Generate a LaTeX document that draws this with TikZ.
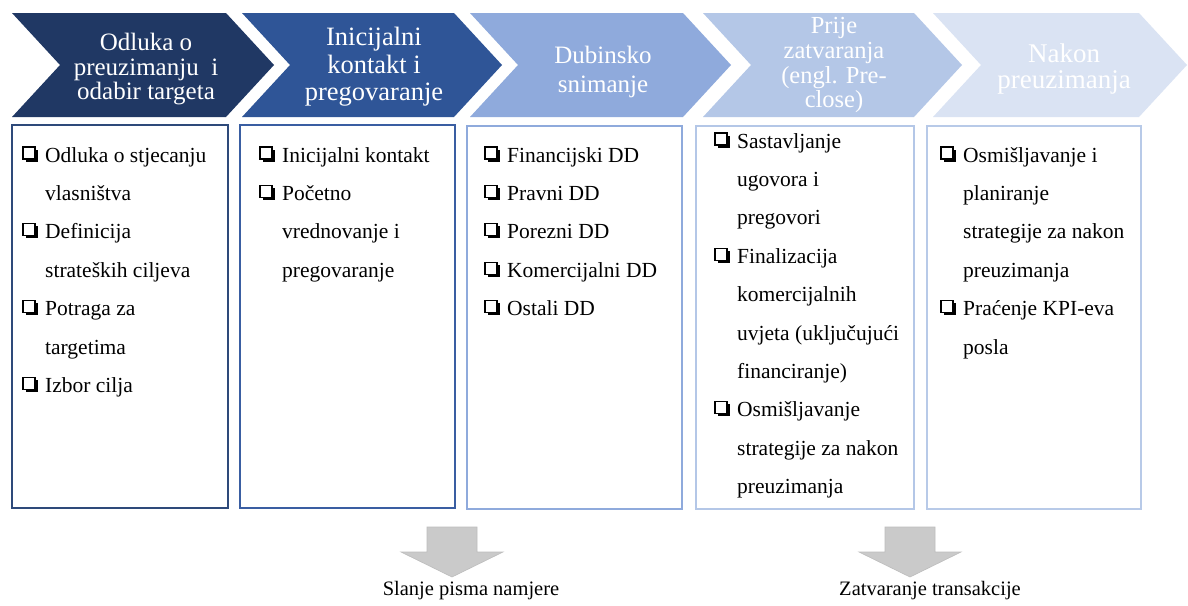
\documentclass[tikz,border=0pt]{standalone}
\usepackage{fontspec}
\setmainfont{Liberation Serif}
\definecolor{cA}{HTML}{203864}
\definecolor{cB}{HTML}{2F5597}
\definecolor{cC}{HTML}{8FAADC}
\definecolor{cD}{HTML}{B4C7E7}
\definecolor{cE}{HTML}{DAE3F3}
\definecolor{bA}{HTML}{2E4A7A}
\definecolor{bB}{HTML}{3A5EA2}
\definecolor{bC}{HTML}{8FAADC}
\definecolor{bD}{HTML}{B4C7E7}
\definecolor{bE}{HTML}{B8CAE8}
\definecolor{arrowgray}{HTML}{CACACA}
\definecolor{arrowedge}{HTML}{BDBDBD}
\newcommand\chevronshape[3]{%
  \fill[#3] (#1,13) -- (#2,13) -- (#2+48,65) -- (#2,117) -- (#1,117) -- (#1+48,65) -- cycle;}
\newcommand\chkbox[2]{%
  \fill[black] (#1+2.6,#2-12.4) rectangle (#1+14.6,#2-0.4);
  \filldraw[fill=white,draw=black,line width=1.1pt] (#1,#2-15) rectangle (#1+12,#2-3);}
\newcommand\blockdown[1]{%
  \filldraw[blockarrow] (#1-25,527) -- (#1+25,527) -- (#1+25,552) -- (#1+51,552) -- (#1,577) -- (#1-51,552) -- (#1-25,552) -- cycle;}
\begin{document}
\begin{tikzpicture}[x=1pt,y=-1pt,
  chevtext/.style={anchor=base,text=white,inner sep=0pt},
  itemtext/.style={anchor=base west,inner sep=0pt,font=\fontsize{21.5}{21.5}\selectfont},
  listbox/.style={line width=1.5pt,fill=white},
  note/.style={anchor=base,inner sep=0pt,font=\fontsize{20.5}{20.5}\selectfont},
  blockarrow/.style={fill=arrowgray,draw=arrowedge,line width=0.6pt}]
\useasboundingbox[fill=white] (0,0) rectangle (1188,605);

% chevrons
\chevronshape{12}{226}{cA}
\chevronshape{242}{454}{cB}
\chevronshape{470}{683}{cC}
\chevronshape{703}{914}{cD}
\chevronshape{933}{1139}{cE}

% chevron texts
\begin{scope}[every node/.append style={font=\fontsize{25}{25}\selectfont}]
\node[chevtext] (h1a) at (146,50) {Odluka o};
\node[chevtext] (h1b) at (146,75) {preuzimanju\ \ i};
\node[chevtext] (h1c) at (146,99) {odabir targeta};
\end{scope}
\begin{scope}[every node/.append style={font=\fontsize{26.5}{26.5}\selectfont}]
\node[chevtext] (h2a) at (374,45) {Inicijalni};
\node[chevtext] (h2b) at (374,73) {kontakt i};
\node[chevtext] (h2c) at (374,100) {pregovaranje};
\end{scope}
\begin{scope}[every node/.append style={font=\fontsize{25}{25}\selectfont}]
\node[chevtext] (h3a) at (603,63) {Dubinsko};
\node[chevtext] (h3b) at (603,92) {snimanje};
\end{scope}
\begin{scope}[every node/.append style={font=\fontsize{24.5}{24.5}\selectfont}]
\node[chevtext] (h4a) at (834,33) {Prije};
\node[chevtext] (h4b) at (834,58.5) {zatvaranja};
\node[chevtext] (h4c) at (834,83) {(engl. Pre-};
\node[chevtext] (h4d) at (834,107.5) {close)};
\end{scope}
\begin{scope}[every node/.append style={font=\fontsize{27}{27}\selectfont}]
\node[chevtext] (h5a) at (1064,62) {Nakon};
\node[chevtext] (h5b) at (1064,88) {preuzimanja};
\end{scope}

% boxes
\draw[listbox,draw=bA] (12,125) rectangle (228,508);
\draw[listbox,draw=bB] (240,125) rectangle (455,508);
\draw[listbox,draw=bC] (467,126) rectangle (682,509);
\draw[listbox,draw=bD] (696,126) rectangle (914,509);
\draw[listbox,draw=bE] (927,126) rectangle (1141,509);

% box 1
\foreach \t [count=\i from 0] in {Odluka o stjecanju,vlasništva,Definicija,strateških ciljeva,Potraga za,targetima,Izbor cilja}
  \node[itemtext,name=ba\i] at (45,162+38.4*\i) {\t};
\foreach \i in {0,2,4,6} {\chkbox{23}{162+38.4*\i}}

% box 2
\foreach \t [count=\i from 0] in {Inicijalni kontakt,Početno,vrednovanje i,pregovaranje}
  \node[itemtext,name=bb\i] at (282,162+38.4*\i) {\t};
\foreach \i in {0,1} {\chkbox{260}{162+38.4*\i}}

% box 3
\foreach \t [count=\i from 0] in {Financijski DD,Pravni DD,Porezni DD,Komercijalni DD,Ostali DD}
  \node[itemtext,name=bc\i] at (507,162+38.4*\i) {\t};
\foreach \i in {0,1,2,3,4} {\chkbox{485}{162+38.4*\i}}

% box 4
\foreach \t [count=\i from 0] in {Sastavljanje,ugovora i,pregovori,Finalizacija,komercijalnih,uvjeta (uključujući,financiranje),Osmišljavanje,strategije za nakon,preuzimanja}
  \node[itemtext,name=bd\i] at (737,148+38.4*\i) {\t};
\foreach \i in {0,3,7} {\chkbox{715}{148+38.4*\i}}

% box 5
\foreach \t [count=\i from 0] in {Osmišljavanje i,planiranje,strategije za nakon,preuzimanja,Praćenje KPI-eva,posla}
  \node[itemtext,name=be\i] at (963,162+38.4*\i) {\t};
\foreach \i in {0,4} {\chkbox{941}{162+38.4*\i}}

% bottom arrows
\blockdown{452}
\blockdown{910}
\node[note] (n1) at (471,595) {Slanje pisma namjere};
\node[note] (n2) at (930,595) {Zatvaranje transakcije};
\end{tikzpicture}
\end{document}
